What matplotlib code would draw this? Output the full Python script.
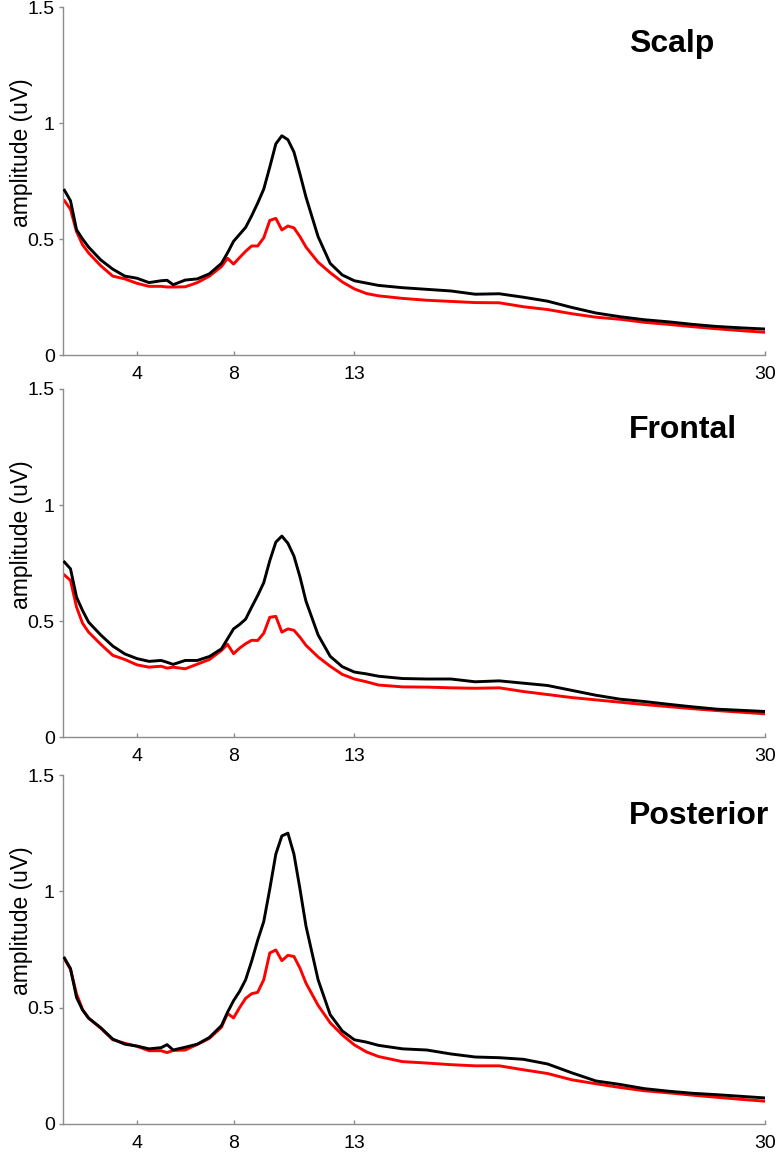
import matplotlib
matplotlib.use("Agg")
import matplotlib.pyplot as plt

plt.rcParams['font.family'] = ['Liberation Sans', 'DejaVu Sans']

# Frequency grid (Hz)
freqs = [1.0, 1.25, 1.5, 1.75, 2.0, 2.5, 3.0, 3.5, 4.0, 4.5, 5.0, 5.25, 5.5,
         6.0, 6.5, 7.0, 7.5, 7.75, 8.0, 8.25, 8.5, 8.75, 9.0, 9.25, 9.5,
         9.75, 10.0, 10.25, 10.5, 10.75, 11.0, 11.5, 12.0, 12.5, 13.0, 13.5,
         14, 15, 16, 17, 18, 19, 20, 21, 22, 23, 24, 25, 26, 27, 28, 29, 30]

# Amplitude spectra (uV) per region: black and red conditions
scalp_black = [0.71, 0.665, 0.54, 0.50, 0.465, 0.41, 0.37, 0.34, 0.331, 0.312,
               0.320, 0.322, 0.303, 0.323, 0.328, 0.35, 0.395, 0.44, 0.49, 0.52,
               0.55, 0.60, 0.655, 0.715, 0.81, 0.91, 0.945, 0.928, 0.875, 0.78,
               0.68, 0.51, 0.395, 0.345, 0.32, 0.31, 0.30, 0.29, 0.283, 0.276,
               0.262, 0.264, 0.249, 0.232, 0.205, 0.181, 0.165, 0.152, 0.143,
               0.132, 0.123, 0.117, 0.112]
scalp_red = [0.665, 0.628, 0.532, 0.475, 0.44, 0.385, 0.34, 0.328, 0.309, 0.296,
             0.296, 0.293, 0.293, 0.294, 0.312, 0.34, 0.381, 0.417, 0.392, 0.42,
             0.447, 0.47, 0.47, 0.505, 0.58, 0.589, 0.539, 0.556, 0.548, 0.51,
             0.465, 0.40, 0.355, 0.315, 0.285, 0.265, 0.255, 0.244, 0.236, 0.231,
             0.226, 0.225, 0.208, 0.196, 0.178, 0.163, 0.154, 0.141, 0.132,
             0.122, 0.113, 0.105, 0.098]

frontal_black = [0.754, 0.725, 0.603, 0.545, 0.495, 0.44, 0.392, 0.358, 0.338,
                 0.326, 0.33, 0.322, 0.313, 0.33, 0.33, 0.347, 0.38, 0.423, 0.466,
                 0.485, 0.508, 0.56, 0.61, 0.665, 0.76, 0.84, 0.866, 0.835, 0.78,
                 0.69, 0.585, 0.44, 0.348, 0.303, 0.28, 0.272, 0.262, 0.252, 0.25,
                 0.25, 0.238, 0.242, 0.232, 0.222, 0.201, 0.18, 0.163, 0.153,
                 0.141, 0.13, 0.12, 0.115, 0.11]
frontal_red = [0.698, 0.675, 0.56, 0.49, 0.452, 0.40, 0.352, 0.334, 0.311, 0.301,
               0.305, 0.297, 0.301, 0.294, 0.314, 0.334, 0.373, 0.40, 0.359, 0.383,
               0.402, 0.417, 0.416, 0.447, 0.516, 0.52, 0.452, 0.466, 0.46, 0.43,
               0.395, 0.345, 0.305, 0.27, 0.25, 0.238, 0.224, 0.216, 0.215, 0.212,
               0.21, 0.212, 0.196, 0.183, 0.17, 0.16, 0.15, 0.14, 0.131, 0.122,
               0.114, 0.107, 0.1]

posterior_black = [0.713, 0.668, 0.544, 0.49, 0.455, 0.414, 0.365, 0.343, 0.335,
                   0.323, 0.328, 0.341, 0.318, 0.33, 0.343, 0.372, 0.423, 0.48,
                   0.53, 0.57, 0.62, 0.70, 0.79, 0.87, 1.01, 1.16, 1.238, 1.25,
                   1.16, 1.01, 0.85, 0.62, 0.47, 0.40, 0.362, 0.352, 0.338, 0.323,
                   0.318, 0.301, 0.288, 0.285, 0.278, 0.258, 0.22, 0.185, 0.17,
                   0.152, 0.141, 0.132, 0.126, 0.119, 0.112]
posterior_red = [0.709, 0.665, 0.559, 0.492, 0.455, 0.412, 0.362, 0.347, 0.334,
                 0.315, 0.315, 0.307, 0.316, 0.318, 0.342, 0.368, 0.416, 0.475,
                 0.456, 0.50, 0.54, 0.56, 0.566, 0.62, 0.735, 0.748, 0.702, 0.725,
                 0.72, 0.67, 0.605, 0.51, 0.435, 0.383, 0.34, 0.31, 0.29, 0.268,
                 0.262, 0.255, 0.25, 0.25, 0.233, 0.217, 0.19, 0.173, 0.157,
                 0.143, 0.134, 0.124, 0.115, 0.106, 0.098]

regions = ["Scalp", "Frontal", "Posterior"]
black_series = [scalp_black, frontal_black, posterior_black]
red_series = [scalp_red, frontal_red, posterior_red]
title_y = [1.306, 1.289, 1.289]

x_ticks = [4, 8, 13, 30]
y_ticks = [0, 0.5, 1, 1.5]
y_ticklabels = ["0", "0.5", "1", "1.5"]

fig = plt.figure(figsize=(7.84, 11.58), dpi=100)
W, H = 784, 1158
panels_px = [(7, 355), (389, 737), (775, 1124)]  # top, bottom in pixels
left_px, right_px = 63, 765

spine_col = "#8c8c8c"
for i, (top, bot) in enumerate(panels_px):
    ax = fig.add_axes([left_px / W, 1 - bot / H, (right_px - left_px) / W,
                       (bot - top) / H])
    ax.plot(freqs, black_series[i], color="black", lw=2.1, zorder=3)
    ax.plot(freqs, red_series[i], color="#ff0000", lw=2.1, zorder=2)
    ax.set_xlim(0.94, 30)
    ax.set_ylim(0, 1.5)
    ax.set_xticks(x_ticks)
    ax.set_xticklabels([str(t) for t in x_ticks])
    ax.set_yticks(y_ticks)
    ax.set_yticklabels(y_ticklabels)
    for s in ["top", "right"]:
        ax.spines[s].set_visible(False)
    for s in ["left", "bottom"]:
        ax.spines[s].set_color(spine_col)
        ax.spines[s].set_linewidth(1.0)
    ax.tick_params(axis="x", direction="in", length=3, width=1,
                   color=spine_col, labelsize=14, pad=8)
    ax.tick_params(axis="y", direction="out", length=3, width=1,
                   color=spine_col, labelsize=14, pad=3)
    ax.set_ylabel("amplitude (uV)", fontsize=16.5)
    ax.yaxis.set_label_coords(-0.043, 0.582)
    ax.text(24.37, title_y[i], regions[i], fontsize=23, fontweight="bold",
            ha="left", va="baseline")

fig.savefig("out.png", dpi=100)
